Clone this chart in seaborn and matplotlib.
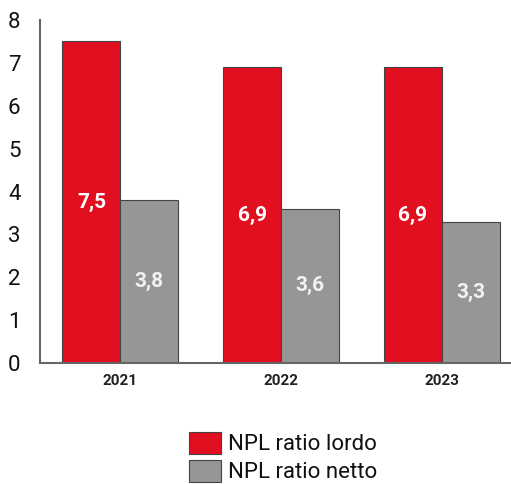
import pandas as pd
import seaborn as sns
import matplotlib.pyplot as plt

# Data
years = ['2021', '2022', '2023']
lordo = [7.5, 6.9, 6.9]
netto = [3.8, 3.6, 3.3]
series = ['NPL ratio lordo', 'NPL ratio netto']

df = pd.DataFrame({
    'anno': years * 2,
    'valore': lordo + netto,
    'serie': [series[0]] * 3 + [series[1]] * 3,
})

sns.set_style('white')
plt.rcParams['font.family'] = ['Roboto', 'DejaVu Sans']

fig = plt.figure(figsize=(5.11, 4.84), dpi=100)
ax = fig.add_axes([40 / 511, 1 - 363 / 484, 482 / 511, 343 / 484])

sns.barplot(data=df, x='anno', y='valore', hue='serie',
            palette=['#e10f20', '#969696'], width=0.72,
            edgecolor='#444444', linewidth=0.8, saturation=1, ax=ax)

# value labels centred in the bars
for cont, col in zip(ax.containers, ['white', '#f2f2f2']):
    ax.bar_label(cont, labels=[f'{v:.1f}'.replace('.', ',') for v in cont.datavalues],
                 label_type='center', color=col, fontsize=15, fontweight='bold')

ax.set_xlim(-0.5, 2.5)
ax.set_ylim(0, 8)
ax.set_yticks(range(0, 9))
ax.set_xlabel('')
ax.set_ylabel('')
ax.tick_params(axis='y', labelsize=16, length=0, pad=14)
ax.tick_params(axis='x', labelsize=11, length=0, pad=8)
for lab in ax.get_yticklabels():
    lab.set_color('#111111')
for lab in ax.get_xticklabels():
    lab.set_fontweight('bold')
    lab.set_color('#222222')

for s in ['top', 'right']:
    ax.spines[s].set_visible(False)
for s in ['left', 'bottom']:
    ax.spines[s].set_color('#666666')
    ax.spines[s].set_linewidth(1.5)

handles, labels = ax.get_legend_handles_labels()
ax.legend_.remove()
leg = fig.legend(handles, labels, loc='upper left', bbox_to_anchor=(180 / 511, 1 - 423 / 484),
                 frameon=False, fontsize=16, handlelength=1.45, handleheight=1.15,
                 handletextpad=0.3, labelspacing=0.2, borderaxespad=0)
for t in leg.get_texts():
    t.set_color('#111111')

fig.savefig('out.png', dpi=100)
